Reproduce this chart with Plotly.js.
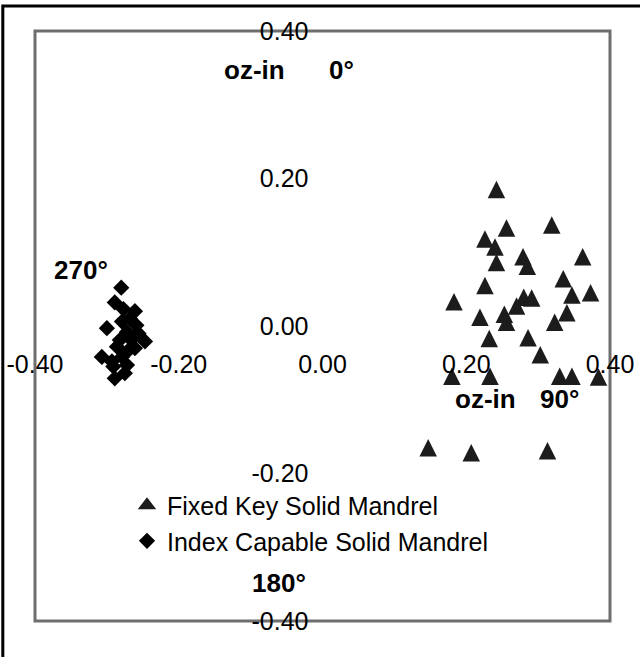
<!DOCTYPE html>
<html>
<head>
<meta charset="utf-8">
<script src="https://cdn.plot.ly/plotly-3.0.1.min.js"></script>
<style>
  html, body { margin: 0; padding: 0; background: #fff; }
  #chart { width: 640px; height: 657px; }
</style>
</head>
<body>
<div id="chart"></div>
<script>
// Torque vectors (oz-in) for the two mandrel types
const fixedKeyX = [0.242, 0.256, 0.319, 0.226, 0.240, 0.242, 0.279, 0.285, 0.362, 0.226, 0.335,
                   0.347, 0.373, 0.183, 0.280, 0.291, 0.270, 0.219, 0.253, 0.256, 0.340, 0.323,
                   0.232, 0.286, 0.303, 0.180, 0.233, 0.330, 0.347, 0.384, 0.147, 0.207, 0.313];
const fixedKeyY = [0.185, 0.133, 0.137, 0.118, 0.107, 0.086, 0.094, 0.081, 0.094, 0.055, 0.064,
                   0.042, 0.045, 0.033, 0.039, 0.038, 0.027, 0.012, 0.016, 0.005, 0.018, 0.005,
                   -0.017, -0.016, -0.039, -0.068, -0.068, -0.068, -0.068, -0.069, -0.165, -0.172, -0.169];

const indexX = [-0.280, -0.289, -0.277, -0.261, -0.268, -0.300, -0.279, -0.259, -0.272, -0.256, -0.247,
                -0.266, -0.282, -0.270, -0.261, -0.279, -0.307, -0.293, -0.272, -0.291, -0.275, -0.289, -0.286];
const indexY = [0.052, 0.032, 0.023, 0.020, 0.010, -0.003, 0.006, 0.001, -0.008, -0.010, -0.021,
                -0.019, -0.019, -0.033, -0.030, -0.042, -0.042, -0.048, -0.053, -0.055, -0.064, -0.071, -0.028];

const seriesNames = ['Fixed Key Solid Mandrel', 'Index Capable Solid Mandrel'];
const tickValues = [-0.4, -0.2, 0, 0.2, 0.4];
const tickLabels = ['-0.40', '-0.20', '0.00', '0.20', '0.40'];

const FONT = 'Liberation Sans, Arial, Helvetica, sans-serif';
const TRI_COLOR = '#1c1c1c';
const DIA_COLOR = '#000';

const traces = [
  {
    x: fixedKeyX, y: fixedKeyY, name: seriesNames[0], legendgroup: 'fk', showlegend: false,
    type: 'scatter', mode: 'markers', cliponaxis: false,
    // upright triangle centred on the point: a flipped arrow pushed back by half its size
    marker: { symbol: 'arrow-down', angle: 180, standoff: 8.75, size: 17.5, color: TRI_COLOR,
              line: { width: 0 } }
  },
  {
    x: indexX, y: indexY, name: seriesNames[1], legendgroup: 'ic', showlegend: false,
    type: 'scatter', mode: 'markers', cliponaxis: false,
    marker: { symbol: 'diamond', size: 12.5, color: DIA_COLOR, line: { width: 0 } }
  },
  // legend keys
  {
    x: [null], y: [null], name: seriesNames[0], legendgroup: 'fk', showlegend: true,
    type: 'scatter', mode: 'markers',
    marker: { symbol: 'triangle-up', size: 16, color: TRI_COLOR, line: { width: 0 } }
  },
  {
    x: [null], y: [null], name: seriesNames[1], legendgroup: 'ic', showlegend: true,
    type: 'scatter', mode: 'markers',
    marker: { symbol: 'diamond', size: 12.5, color: DIA_COLOR, line: { width: 0 } }
  }
];

const boldFont = { family: FONT, size: 26, color: '#000', weight: 'bold' };
function label(text, x, y) {
  return { text: '<b>' + text + '</b>', x: x, y: y, xref: 'paper', yref: 'paper',
           xanchor: 'center', yanchor: 'middle', showarrow: false, font: boldFont };
}

const layout = {
  width: 640, height: 657,
  margin: { l: 35, r: 30, t: 31, b: 36, pad: 0 },
  paper_bgcolor: '#fff', plot_bgcolor: 'rgba(0,0,0,0)',
  showlegend: true,
  font: { family: FONT, size: 25, color: '#000' },
  xaxis: {
    range: [-0.4, 0.4], anchor: 'free', position: 0.5,
    tickmode: 'array', tickvals: tickValues, ticktext: tickLabels,
    ticks: '', ticklabelstandoff: 21, showline: false, showgrid: false, zeroline: false,
    automargin: false, fixedrange: true,
    tickfont: { family: FONT, size: 25, color: '#000' }
  },
  yaxis: {
    range: [-0.4, 0.4], anchor: 'free', position: 0.5,
    tickmode: 'array', tickvals: tickValues, ticktext: tickLabels,
    ticks: '', ticklabelstandoff: 14, showline: false, showgrid: false, zeroline: false,
    automargin: false, fixedrange: true,
    tickfont: { family: FONT, size: 25, color: '#000' }
  },
  legend: {
    x: 0.16, xanchor: 'left', y: 0.166, yanchor: 'middle',
    bgcolor: 'rgba(0,0,0,0)', borderwidth: 0,
    font: { family: FONT, size: 25, color: '#000' },
    itemwidth: 30, tracegroupgap: 0
  },
  shapes: [
    // plot frame
    { type: 'rect', xref: 'paper', yref: 'paper', x0: 0, x1: 1, y0: 0, y1: 1,
      line: { color: '#6e6e6e', width: 3 }, layer: 'below' },
    // outer chart border (open to the right and bottom)
    { type: 'rect', xref: 'paper', yref: 'paper', x0: -0.056, x1: 1.2, y0: -0.2, y1: 1.0423,
      line: { color: '#000', width: 3 }, layer: 'below' }
  ],
  annotations: [
    label('oz-in', 0.3826, 0.934),
    label('0°', 0.5322, 0.934),
    label('270°', 0.080, 0.595),
    label('oz-in', 0.7843, 0.3763),
    label('90°', 0.9130, 0.3763),
    label('180°', 0.4243, 0.0644)
  ]
};

Plotly.newPlot('chart', traces, layout, { staticPlot: true, displayModeBar: false });
</script>
</body>
</html>
